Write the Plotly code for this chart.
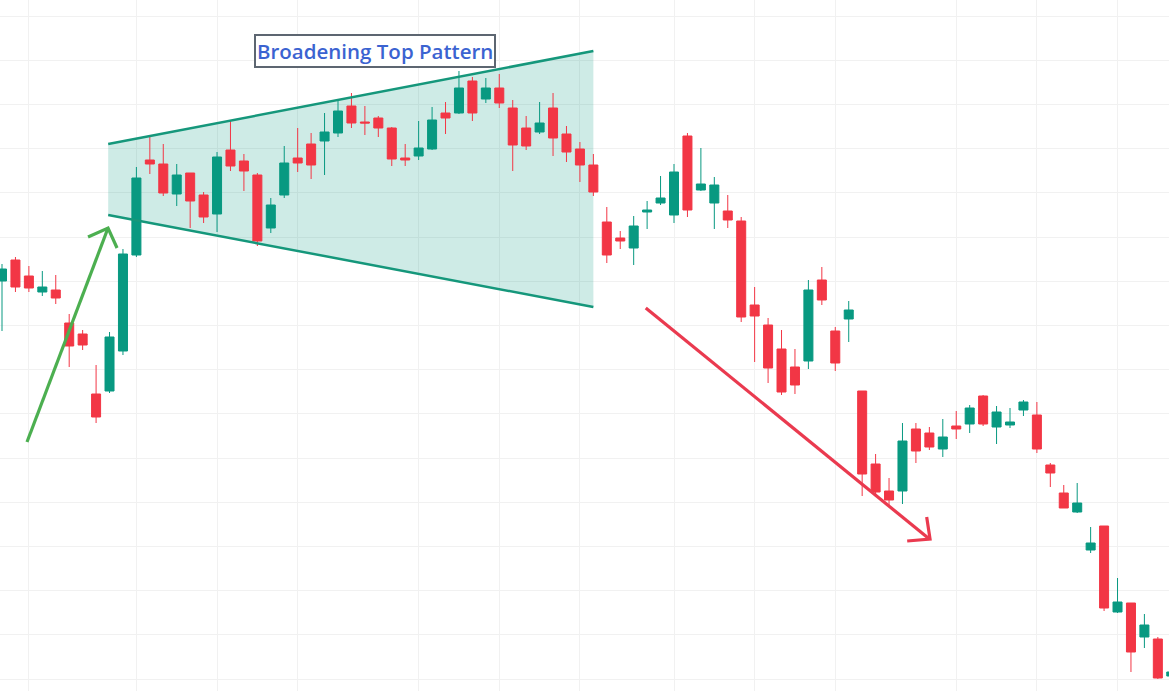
import plotly.graph_objects as go

# ---- data (price units; candles indexed by bar number) ----
bars = list(range(88))
opens = [410, 431, 415, 399, 401, 368, 357, 297, 300, 340,
         436, 531, 527, 497, 518, 496, 477, 541, 530, 516,
         463, 496, 533, 547, 550, 558, 585, 569, 573, 563,
         533, 535, 542, 578, 578, 610, 592, 603, 583, 563,
         559, 583, 557, 542, 526, 469, 453, 443, 479, 488,
         476, 555, 501, 488, 480, 470, 386, 366, 342, 324,
         330, 411, 360, 372, 300, 227, 200, 200, 262, 258,
         242, 265, 267, 295, 264, 266, 281, 276, 226, 198,
         179, 141, 165, 79, 88, 54, 52, 15]
highs = [427, 434, 425, 420, 416, 377, 361, 326, 359, 442,
         524, 556, 547, 527, 518, 499, 539, 571, 537, 518,
         493, 545, 563, 558, 578, 590, 598, 585, 575, 564,
         547, 570, 584, 589, 620, 614, 613, 617, 591, 575,
         589, 598, 565, 549, 537, 484, 460, 475, 490, 515,
         527, 558, 543, 514, 496, 474, 404, 373, 361, 342,
         411, 424, 364, 390, 300, 237, 213, 268, 268, 264,
         272, 280, 286, 296, 285, 283, 291, 289, 228, 206,
         208, 164, 165, 113, 88, 77, 54, 20]
lows = [360, 399, 399, 395, 387, 324, 341, 268, 298, 336,
        434, 517, 495, 485, 463, 468, 459, 520, 500, 445,
        458, 493, 519, 512, 516, 554, 563, 556, 554, 525,
        525, 531, 541, 557, 577, 570, 588, 583, 520, 541,
        557, 535, 529, 509, 495, 428, 442, 426, 462, 486,
        468, 474, 500, 462, 463, 369, 329, 308, 296, 297,
        322, 386, 320, 349, 195, 196, 186, 187, 228, 241,
        234, 252, 258, 265, 247, 263, 275, 238, 204, 183,
        178, 138, 80, 78, 19, 43, 12, 14]
closes = [422, 404, 403, 404, 393, 345, 346, 274, 354, 437,
          513, 527, 498, 516, 490, 474, 534, 525, 520, 450,
          486, 528, 528, 526, 559, 580, 568, 568, 563, 532,
          531, 543, 571, 573, 603, 578, 603, 588, 546, 545,
          568, 553, 539, 526, 499, 436, 450, 465, 481, 493,
          519, 481, 507, 506, 471, 374, 375, 323, 299, 306,
          401, 391, 328, 381, 217, 199, 191, 250, 240, 244,
          254, 262, 283, 267, 279, 269, 289, 242, 218, 183,
          188, 148, 83, 89, 39, 66, 13, 19]

# time-axis grid positions (bar numbers) and price grid
time_grid_bars = [2, 10, 16, 22, 31, 37, 43, 50, 56, 62, 71, 77, 83]

# pattern geometry (bar, price)
pattern_top = [(7.9, 547), (44.0, 640)]
pattern_bottom = [(7.9, 476), (44.0, 384)]
up_arrow = [(1.86, 249), (7.89, 463)]
up_head = [(6.40, 454), (7.89, 463), (8.56, 443)]
down_arrow = [(47.9, 383), (69.0, 152)]
down_head = [(68.8, 174), (69.05, 152), (67.35, 150)]
title_text = "Broadening Top Pattern"
title_pos = (27.75, 640.5)

GREEN = "#089981"
RED = "#F23645"

fig = go.Figure()
fig.add_trace(go.Candlestick(
    x=bars, open=opens, high=highs, low=lows, close=closes,
    increasing=dict(line=dict(color=GREEN, width=1), fillcolor=GREEN),
    decreasing=dict(line=dict(color=RED, width=1), fillcolor=RED),
    whiskerwidth=0, showlegend=False, hoverinfo="skip",
))

def path(points, close=False):
    s = "M " + " L ".join(f"{x},{y}" for x, y in points)
    return s + (" Z" if close else "")

# shaded broadening area
poly = [pattern_top[0], pattern_top[1], pattern_bottom[1], pattern_bottom[0]]
fig.add_shape(type="path", path=path(poly, True), xref="x", yref="y",
              fillcolor="rgba(8,153,129,0.2)", line=dict(width=0), layer="between")
for seg in (pattern_top, pattern_bottom):
    fig.add_shape(type="path", path=path(seg), xref="x", yref="y",
                  line=dict(color="#15977b", width=2.5))

# arrows
for seg in (up_arrow, up_head):
    fig.add_shape(type="path", path=path(seg), xref="x", yref="y",
                  line=dict(color="#4caf50", width=3.2))
for seg in (down_arrow, down_head):
    fig.add_shape(type="path", path=path(seg), xref="x", yref="y",
                  line=dict(color="#ea3a4f", width=3.2))

fig.add_annotation(
    x=title_pos[0], y=title_pos[1], xref="x", yref="y", text=title_text,
    showarrow=False,
    font=dict(family="Open Sans", size=20.5, color="#3b63d1", weight=600),
    bgcolor="white", bordercolor="#5d6671", borderwidth=2, borderpad=1,
)

fig.update_layout(
    width=1169, height=691,
    margin=dict(l=0, r=0, t=0, b=0),
    paper_bgcolor="white", plot_bgcolor="white",
    boxgap=0.33, boxgroupgap=0,
    xaxis=dict(range=[-0.149, 86.83], tickmode="array", tickvals=time_grid_bars,
               showticklabels=False, showgrid=True, gridcolor="#f1f1f1",
               gridwidth=1, zeroline=False, rangeslider=dict(visible=False),
               showline=False, fixedrange=True),
    yaxis=dict(range=[0, 691], tick0=12, dtick=44.2, showticklabels=False,
               showgrid=True, gridcolor="#f1f1f1", gridwidth=1,
               zeroline=False, showline=False, fixedrange=True),
)

fig.write_html(
    "out.html",
    config={"displayModeBar": False},
    post_script="document.body.style.margin='0';document.body.style.overflow='hidden';",
)
